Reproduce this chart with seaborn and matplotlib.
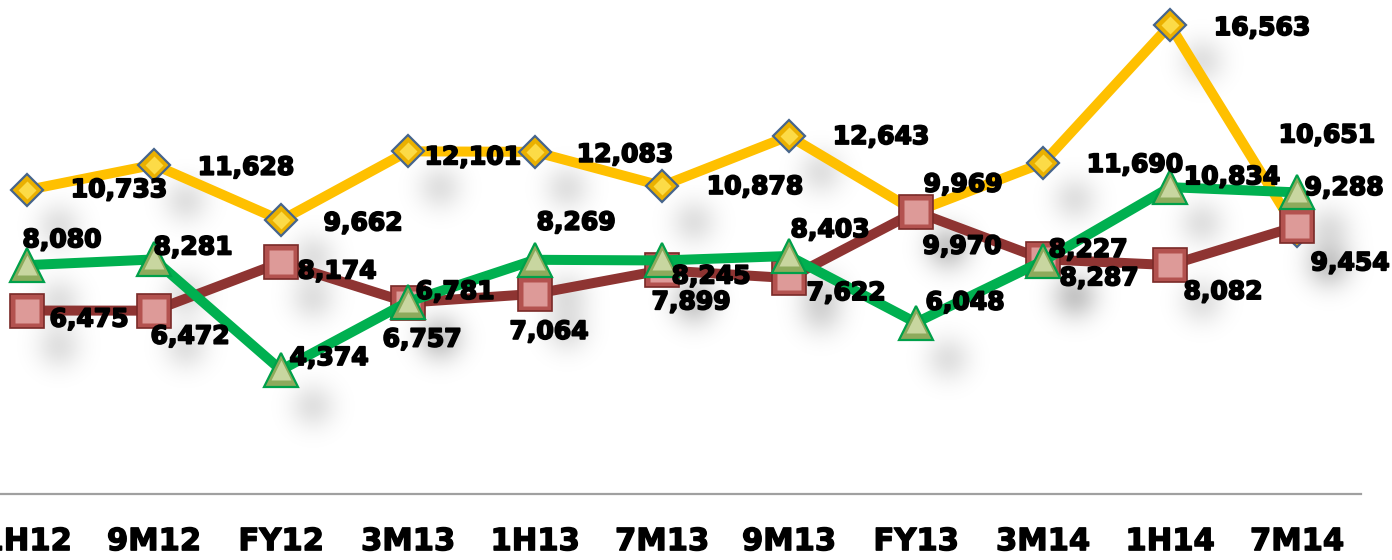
import numpy as np
import matplotlib
matplotlib.use("Agg")
import matplotlib.pyplot as plt
import matplotlib.patheffects as pe
import seaborn as sns

# ---- data -------------------------------------------------------------
periods = ["1H12", "9M12", "FY12", "3M13", "1H13", "7M13",
           "9M13", "FY13", "3M14", "1H14", "7M14"]
gold_values = [10733, 11628, 9662, 12101, 12083, 10878,
               12643, 9969, 11690, 16563, 9288]
red_values = [6475, 6472, 8174, 6757, 7064, 7899,
              7622, 9970, 8287, 8082, 9454]
green_values = [8080, 8281, 4374, 6781, 8269, 8245,
                8403, 6048, 8227, 10834, 10651]

# label placement (pixels right / pixels down from each marker)
gold_label_pos = [(92, 0), (92, 3), (82, 3), (65, 6), (90, 3), (93, 1),
                  (92, 1), (47, -27), (92, 2), (92, 3), (47, -43)]
red_label_pos = [(62, 9), (36, 26), (56, 9), (14, 37), (14, 38), (29, 32),
                 (57, 15), (46, 35), (56, 19), (53, 27), (53, 37)]
green_label_pos = [(35, -25), (39, -12), (48, -12), (47, -10), (41, -37),
                   (49, 16), (41, -26), (49, -20), (45, -11), (62, -10),
                   (30, -57)]

sns.set_style("white")
plt.rcParams["font.family"] = ["DejaVu Sans"]

W, H = 1392, 560
fig = plt.figure(figsize=(W / 100, H / 100), dpi=100)
fig.patch.set_facecolor("white")
ax = fig.add_axes([-36.5 / W, (H - 493.8) / H, 1397 / W, 509.4 / H])
ax.set_facecolor("none")
ax.set_xlim(-0.5, 10.5)
ax.set_ylim(0, 18000)

# ---- series -----------------------------------------------------------
series = [
    dict(vals=gold_values, pos=gold_label_pos, line="#FFC000", marker="D",
         ms=16.5, face="#EAB000", edge="#46658C", mew=1.6,
         hi="#FFE050", hi_ms=9, z=2),
    dict(vals=red_values, pos=red_label_pos, line="#8E3432", marker="s",
         ms=24, face="#B3524F", edge="#7A2A28", mew=1.2,
         hi="#E2A3A1", hi_ms=17, z=3),
    dict(vals=green_values, pos=green_label_pos, line="#00B050", marker="^",
         ms=24, face="#8DAA5C", edge="#00A04A", mew=1.6,
         hi="#CFDBA8", hi_ms=15, z=4),
]

# ---- soft drop shadow below and right of every marker -----------------
shadow_dx, shadow_dy, shadow_sigma, shadow_peak = 32, -36, 16.0, 0.12
cols = np.arange(W) + 0.5
rows = H - (np.arange(H) + 0.5)          # display y of each image row
gx, gy = np.meshgrid(cols, rows)
clear = np.ones((H, W))
for s in series:
    pts = ax.transData.transform(np.column_stack([np.arange(len(periods)),
                                                  s["vals"]]))
    for px, py in pts:
        d2 = (gx - px - shadow_dx) ** 2 + (gy - py - shadow_dy) ** 2
        clear *= 1 - shadow_peak * np.exp(-d2 / (2 * shadow_sigma ** 2))
shade = np.zeros((H, W, 4))
shade[..., 3] = 1 - clear
fig.figimage(shade, xo=0, yo=0, origin="upper", zorder=-1)

for s in series:
    sns.lineplot(x=periods, y=s["vals"], ax=ax, sort=False, color=s["line"],
                 lw=7.2, marker=s["marker"], ms=s["ms"], mfc=s["face"],
                 mec=s["edge"], mew=s["mew"], zorder=s["z"])
    ax.plot(periods, s["vals"], linestyle="none", marker=s["marker"],
            ms=s["hi_ms"], mfc=s["hi"], mec="none", alpha=0.9,
            zorder=s["z"] + 0.1)

heavy = [pe.withStroke(linewidth=1.3, foreground="black")]
for s in series:
    for p, v, (dx, dy) in zip(periods, s["vals"], s["pos"]):
        ax.annotate(f"{v:,}", xy=(p, v), xytext=(dx, -dy),
                    textcoords="offset pixels", ha="center", va="center",
                    fontsize=18, fontweight="bold", color="black",
                    path_effects=heavy, zorder=10)

# ---- axes -------------------------------------------------------------
ax.set_xlabel("")
ax.set_ylabel("")
ax.set_yticks([])
for side in ("top", "left", "right"):
    ax.spines[side].set_visible(False)
ax.spines["bottom"].set_color("#A0A0A0")
ax.spines["bottom"].set_linewidth(1.6)
ax.tick_params(axis="x", length=0, pad=24, labelsize=22, labelcolor="black")
for lab in ax.get_xticklabels():
    lab.set_fontweight("bold")
    lab.set_path_effects([pe.withStroke(linewidth=1.0, foreground="black")])

fig.savefig("out.png", dpi=100, facecolor="white")
